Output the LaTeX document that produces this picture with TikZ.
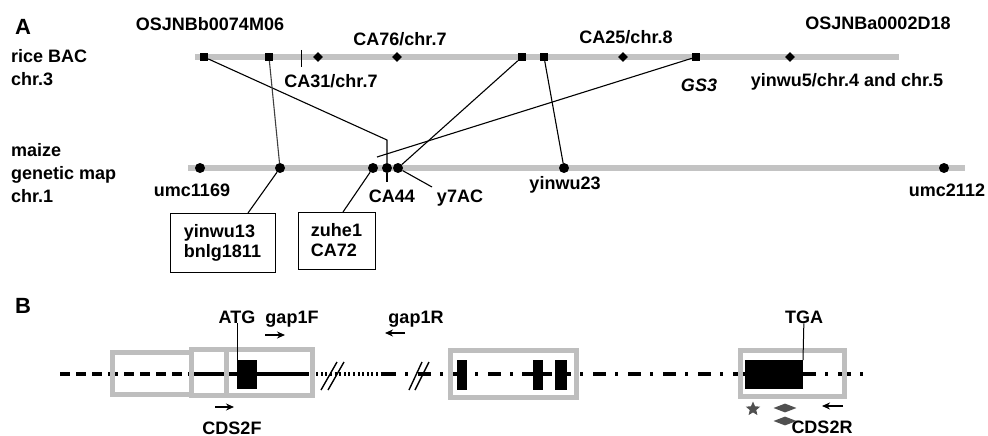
\documentclass[tikz,border=0pt]{standalone}
\usepackage{fontspec}
\setmainfont{Liberation Sans}
\usetikzlibrary{shapes.geometric,arrows.meta}
\definecolor{chrgray}{HTML}{C3C3C3}
\definecolor{boxgray}{HTML}{BEBEBE}
\definecolor{symgray}{HTML}{505050}
\begin{document}
\begin{tikzpicture}[x=1pt,y=-1pt,
  lbl/.style={font=\fontsize{18}{19}\selectfont\bfseries, inner sep=0, anchor=base},
  lblw/.style={lbl, anchor=base west},
  panel/.style={font=\fontsize{22}{24}\selectfont\bfseries, inner sep=0, anchor=base west},
  chrom/.style={line width=6, draw=chrgray},
  sq/.style={rectangle, fill=black, minimum size=8, inner sep=0},
  dm/.style={diamond, fill=black, minimum size=10, inner sep=0},
  mdot/.style={circle, fill=black, minimum size=10, inner sep=0},
  link/.style={line width=1.1, draw=black},
  mbox/.style={draw, line width=1, inner sep=0, align=left, font=\fontsize{18}{20}\selectfont\bfseries},
  mainline/.style={line width=3.5, draw=black},
  gbox/.style={draw=boxgray, line width=5},
  exon/.style={fill=black},
  brk/.style={line width=1.4, draw=black},
  primer/.style={line width=1.6, -{Stealth[length=8,width=7]}}
]
\useasboundingbox (0,0) rectangle (988,436);

% ---------- Panel A ----------
\node[panel] (pa) at (15,35) {A};
\node[lblw] (r1) at (11,63) {rice BAC};
\node[lblw] (r2) at (11,85) {chr.3};
\node[lblw] (m1) at (11,156) {maize};
\node[lblw] (m2) at (11,179) {genetic map};
\node[lblw] (m3) at (11,202) {chr.1};

\draw[chrom] (195,57) -- (899,57);
\draw[chrom] (188,168) -- (965,168);

% rice markers
\node[sq] (s1) at (204,57) {};
\node[sq] (s2) at (269,57) {};
\draw[line width=1] (301,50) -- (301,67);
\node[dm] (dA) at (318,57) {};
\node[dm] (dB) at (397,57) {};
\node[sq] (s3) at (522,57) {};
\node[sq] (s4) at (544,57) {};
\node[dm] (dC) at (623,57) {};
\node[sq] (gs) at (696,57) {};
\node[dm] (dD) at (790,57) {};

\node[lbl] (t1) at (210,31) {OSJNBb0074M06};
\node[lbl] (t2) at (400,46) {CA76/chr.7};
\node[lbl] (t3) at (331,88) {CA31/chr.7};
\node[lbl] (t4) at (878,30) {OSJNBa0002D18};
\node[lbl] (t5) at (626,44) {CA25/chr.8};
\node[lbl] (t6) at (699,92) {\itshape GS3};
\node[lbl] (t7) at (847,86) {yinwu5/chr.4 and chr.5};

% maize markers
\node[mdot] (u1) at (200,168) {};
\node[mdot] (yb) at (280,168) {};
\node[mdot] (zc) at (373,168) {};
\node[mdot] (ca) at (387,168) {};
\node[mdot] (y7) at (398,168) {};
\node[mdot] (y23) at (564,168) {};
\node[mdot] (u2) at (944,168) {};

\node[lbl] (l1) at (192,196) {umc1169};
\node[lbl] (l2) at (392,202) {CA44};
\node[lbl] (l3) at (460,202) {y7AC};
\node[lbl] (l4) at (565,189) {yinwu23};
\node[lbl] (l5) at (947,196) {umc2112};

\node[mbox, minimum width=105, minimum height=59] (bx1) at (222.5,242.5) {yinwu13\\bnlg1811};
\node[mbox, minimum width=77, minimum height=57] (bx2) at (336.5,240.5) {zuhe1\\CA72};

% connectors
\coordinate (k1) at (387,140);
\coordinate (k2) at (377,157);
\coordinate (b1t) at (248,213);
\coordinate (b2t) at (343,212);
\coordinate (catk) at (387,182);
\coordinate (y7e) at (432,187);
\draw[link] (s1) -- (k1) -- (ca);
\draw[link, draw=black!75] (s2) -- (yb);
\draw[link] (s3) -- (y7);
\draw[link] (s4) -- (y23);
\draw[link] (gs) -- (k2);
\draw[link] (yb) -- (b1t);
\draw[link] (zc) -- (b2t);
\draw[link] (ca) -- (catk);
\draw[link] (y7) -- (y7e);

% ---------- Panel B ----------
\node[panel] (pb) at (15,313) {B};

\draw[mainline, dash pattern=on 10 off 6] (60,374) -- (190,374);
\draw[mainline] (190,374) -- (307,374);
\draw[mainline, dash pattern=on 2 off 2.6] (307,374) -- (383,374);
\draw[mainline, dash pattern=on 13 off 9 on 3 off 10] (383,374) -- (870,374);
\draw[mainline] (522,374) -- (552,374);

\draw[gbox] (112.5,352.5) rectangle (191,394.5);
\draw[gbox] (191,349.5) rectangle (312.5,395.5);
\draw[gbox] (226.5,349.5) -- (226.5,395.5);
\draw[gbox] (450.5,350.5) rectangle (576.5,397.5);
\draw[gbox] (740.5,350.5) rectangle (844.5,396.5);

\fill[exon] (237,360) rectangle (257,389);
\coordinate (e1nw) at (237,360);
\fill[exon] (457,360) rectangle (467,390);
\fill[exon] (533,360) rectangle (543,390);
\fill[exon] (555,360) rectangle (567,390);
\fill[exon] (745,360) rectangle (803,389);
\coordinate (e5ne) at (803,360);

% break marks
\draw[brk] (321,390) -- (337,362);
\draw[brk] (328,390) -- (344,362);
\draw[brk] (409,390) -- (422,362);
\draw[brk] (415,390) -- (429,362);

\node[lbl] (atg) at (237,323) {ATG};
\node[lbl] (g1f) at (292,323) {gap1F};
\node[lbl] (g1r) at (416,323) {gap1R};
\node[lbl] (tga) at (804,323) {TGA};
\node[lbl] (c2f) at (232,434) {CDS2F};
\node[lbl] (c2r) at (822,433) {CDS2R};
\draw[line width=1] (atg) -- (e1nw);
\draw[line width=1] (tga) -- (e5ne);

\coordinate (a1s) at (265,335); \coordinate (a1e) at (285,335);
\coordinate (a2s) at (405,333); \coordinate (a2e) at (385,333);
\coordinate (a3s) at (215,407); \coordinate (a3e) at (234,407);
\coordinate (a4s) at (843,406); \coordinate (a4e) at (822,406);
\draw[primer] (a1s) -- (a1e);
\draw[primer] (a2s) -- (a2e);
\draw[primer] (a3s) -- (a3e);
\draw[primer] (a4s) -- (a4e);

\node[star, star points=5, star point ratio=2.2, fill=symgray, minimum size=15, inner sep=0] (st) at (753,409) {};
\node[diamond, fill=symgray, minimum width=23, minimum height=9, inner sep=0] (dm1) at (785,408) {};
\node[diamond, fill=symgray, minimum width=23, minimum height=9, inner sep=0] (dm2) at (785,421) {};
\end{tikzpicture}
\end{document}
